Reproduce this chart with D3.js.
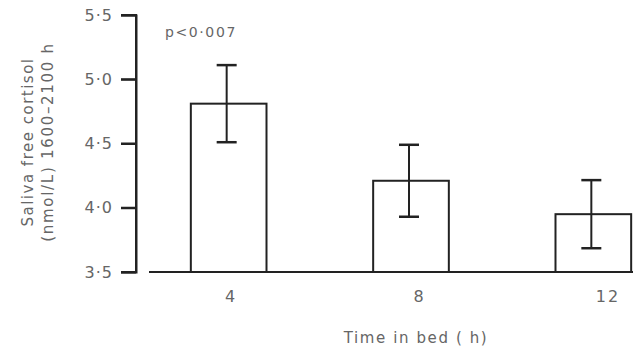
<!DOCTYPE html>
<html>
<head>
<meta charset="utf-8">
<script src="https://cdn.jsdelivr.net/npm/d3@7"></script>
<style>
  body { margin: 0; background: #fff; }
  text { font-family: "DejaVu Sans", sans-serif; fill: #666; }
</style>
</head>
<body>
<script>
'use strict';

const categories = ['4', '8', '12'];
const means = [4.81, 4.21, 3.95];
const errors = [0.30, 0.28, 0.265];
const yTicks = [3.5, 4.0, 4.5, 5.0, 5.5];
const yTickLabels = ['3·5', '4·0', '4·5', '5·0', '5·5'];

const width = 633, height = 348;
const ink = '#222';
const axisX = 136;

const svg = d3.select('body').append('svg')
  .attr('width', width)
  .attr('height', height);

const y = d3.scaleLinear()
  .domain([3.5, 5.5])
  .range([272, 15]);

const x = d3.scaleBand()
  .domain(categories)
  .range([137.5, 684.5])
  .paddingInner(0.585)
  .paddingOuter(0.2925);

// tick labels sit a bit right of the bars in the original
const xLabel = d3.scalePoint()
  .domain(categories)
  .range([231, 608]);

// y axis
const yAxis = d3.axisLeft(y)
  .tickValues(yTicks)
  .tickFormat((d, i) => yTickLabels[i])
  .tickSize(15)
  .tickPadding(8);

const gy = svg.append('g')
  .attr('transform', `translate(${axisX},0)`)
  .call(yAxis);
gy.select('.domain')
  .attr('stroke', ink).attr('stroke-width', 2);
gy.selectAll('.tick line')
  .attr('stroke', ink).attr('stroke-width', 2);
gy.selectAll('.tick text')
  .style('font-size', '16px')
  .style('letter-spacing', '1px')
  .style('fill', '#666');

// baseline
svg.append('line')
  .attr('x1', 149).attr('x2', width)
  .attr('y1', y(3.5)).attr('y2', y(3.5))
  .attr('stroke', ink).attr('stroke-width', 2);

// bars
svg.append('g').selectAll('rect')
  .data(means)
  .join('rect')
  .attr('x', (d, i) => x(categories[i]))
  .attr('width', x.bandwidth())
  .attr('y', d => y(d))
  .attr('height', d => y(3.5) - y(d))
  .attr('fill', 'none')
  .attr('stroke', ink)
  .attr('stroke-width', 2);

// error bars
const eb = svg.append('g').selectAll('g')
  .data(means)
  .join('g')
  .attr('transform', (d, i) => `translate(${x(categories[i]) + x.bandwidth() / 2 - 2},0)`);
eb.append('line')
  .attr('y1', (d, i) => y(d + errors[i]))
  .attr('y2', (d, i) => y(d - errors[i]))
  .attr('stroke', ink).attr('stroke-width', 2);
eb.append('line')
  .attr('x1', -10).attr('x2', 10)
  .attr('y1', (d, i) => y(d + errors[i]))
  .attr('y2', (d, i) => y(d + errors[i]))
  .attr('stroke', ink).attr('stroke-width', 2.5);
eb.append('line')
  .attr('x1', -10).attr('x2', 10)
  .attr('y1', (d, i) => y(d - errors[i]))
  .attr('y2', (d, i) => y(d - errors[i]))
  .attr('stroke', ink).attr('stroke-width', 2.5);

// x tick labels
svg.append('g').selectAll('text')
  .data(categories)
  .join('text')
  .attr('x', d => xLabel(d))
  .attr('y', 302)
  .attr('text-anchor', 'middle')
  .style('font-size', '16px')
  .style('letter-spacing', '2px')
  .text(d => d);

// axis titles
svg.append('text')
  .attr('x', 416).attr('y', 343)
  .attr('text-anchor', 'middle')
  .style('font-size', '15px')
  .style('letter-spacing', '1.6px')
  .text('Time in bed ( h)');

const yTitle = svg.append('g')
  .attr('transform', 'translate(0,142) rotate(-90)');
yTitle.append('text')
  .attr('x', 0).attr('y', 33)
  .attr('text-anchor', 'middle')
  .style('font-size', '15px')
  .style('letter-spacing', '1.5px')
  .text('Saliva free cortisol');
yTitle.append('text')
  .attr('x', 0).attr('y', 53)
  .attr('text-anchor', 'middle')
  .style('font-size', '15px')
  .style('letter-spacing', '1.7px')
  .text('(nmol/L) 1600–2100 h');

svg.append('text')
  .attr('x', 165).attr('y', 37)
  .style('font-size', '14px')
  .style('letter-spacing', '1.6px')
  .text('p<0·007');

// y axis line and tick marks drawn last, as filled rects
svg.append('rect')
  .attr('x', axisX - 1).attr('width', 2)
  .attr('y', y(5.5) - 1).attr('height', y(3.5) - y(5.5) + 2)
  .attr('fill', ink);
svg.append('g').selectAll('rect')
  .data(yTicks)
  .join('rect')
  .attr('x', axisX - 15).attr('width', 15)
  .attr('y', d => y(d) - 1).attr('height', 2)
  .attr('fill', ink);
</script>
</body>
</html>
